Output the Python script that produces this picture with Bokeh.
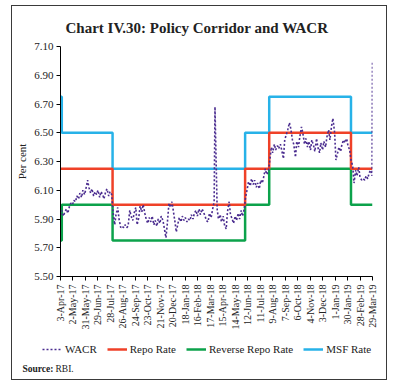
import math
import pandas as pd
from bokeh.plotting import figure
from bokeh.layouts import column
from bokeh.models import Range1d, FixedTicker, Legend, LegendItem, Label
from bokeh.embed import file_html
from bokeh.resources import INLINE

title_text = "Chart IV.30: Policy Corridor and WACR"
y_axis_label = "Per cent"
source_head = "Source:"
source_body = "RBI."
series_names = ["WACR", "Repo Rate", "Reverse Repo Rate", "MSF Rate"]

x_tick_labels = ["3-Apr-17", "2-May-17", "31-May-17", "29-Jun-17", "28-Jul-17", "26-Aug-17",
                 "24-Sep-17", "23-Oct-17", "21-Nov-17", "20-Dec-17", "18-Jan-18", "16-Feb-18",
                 "17-Mar-18", "15-Apr-18", "14-May-18", "12-Jun-18", "11-Jul-18", "9-Aug-18",
                 "7-Sep-18", "6-Oct-18", "4-Nov-18", "3-Dec-18", "1-Jan-19", "30-Jan-19",
                 "28-Feb-19", "29-Mar-19"]
y_ticks = [5.50, 5.70, 5.90, 6.10, 6.30, 6.50, 6.70, 6.90, 7.10]
y_tick_labels = ["5.50", "5.70", "5.90", "6.10", "6.30", "6.50", "6.70", "6.90", "7.10"]

# Policy corridor (step changes)
policy_dates = ["2017-04-03", "2017-04-06", "2017-08-02", "2018-06-06", "2018-08-01", "2019-02-07", "2019-03-29"]
repo_rate = [6.25, 6.25, 6.00, 6.25, 6.50, 6.25, 6.25]
reverse_repo_rate = [5.75, 6.00, 5.75, 6.00, 6.25, 6.00, 6.00]
msf_rate = [6.75, 6.50, 6.25, 6.50, 6.75, 6.50, 6.50]

# WACR
wacr_dates = [
    "2017-04-03", "2017-04-06", "2017-04-10", "2017-04-13", "2017-04-17", "2017-04-20", "2017-04-24", "2017-04-27",
    "2017-05-01", "2017-05-04", "2017-05-08", "2017-05-11", "2017-05-15", "2017-05-18", "2017-05-22", "2017-05-25",
    "2017-05-29", "2017-06-01", "2017-06-05", "2017-06-08", "2017-06-12", "2017-06-15", "2017-06-19", "2017-06-22",
    "2017-06-26", "2017-06-29", "2017-07-03", "2017-07-06", "2017-07-10", "2017-07-13", "2017-07-17", "2017-07-20",
    "2017-07-24", "2017-07-27", "2017-07-31", "2017-08-03", "2017-08-07", "2017-08-10", "2017-08-14", "2017-08-17",
    "2017-08-21", "2017-08-24", "2017-08-28", "2017-08-31", "2017-09-04", "2017-09-07", "2017-09-11", "2017-09-14",
    "2017-09-18", "2017-09-21", "2017-09-25", "2017-09-28", "2017-10-02", "2017-10-05", "2017-10-09", "2017-10-12",
    "2017-10-16", "2017-10-19", "2017-10-23", "2017-10-26", "2017-10-30", "2017-11-02", "2017-11-06", "2017-11-09",
    "2017-11-13", "2017-11-16", "2017-11-20", "2017-11-23", "2017-11-27", "2017-11-30", "2017-12-04", "2017-12-07",
    "2017-12-11", "2017-12-14", "2017-12-18", "2017-12-21", "2017-12-25", "2017-12-28", "2018-01-01", "2018-01-04",
    "2018-01-08", "2018-01-11", "2018-01-15", "2018-01-18", "2018-01-22", "2018-01-25", "2018-01-29", "2018-02-01",
    "2018-02-05", "2018-02-08", "2018-02-12", "2018-02-15", "2018-02-19", "2018-02-22", "2018-02-26", "2018-03-01",
    "2018-03-05", "2018-03-08", "2018-03-12", "2018-03-15", "2018-03-19", "2018-03-22", "2018-03-26", "2018-03-28",
    "2018-04-02", "2018-04-05", "2018-04-09", "2018-04-12", "2018-04-16", "2018-04-19", "2018-04-23", "2018-04-26",
    "2018-04-30", "2018-05-03", "2018-05-07", "2018-05-10", "2018-05-14", "2018-05-17", "2018-05-21", "2018-05-24",
    "2018-05-28", "2018-05-31", "2018-06-04", "2018-06-07", "2018-06-11", "2018-06-14", "2018-06-18", "2018-06-21",
    "2018-06-25", "2018-06-28", "2018-07-02", "2018-07-05", "2018-07-09", "2018-07-12", "2018-07-16", "2018-07-19",
    "2018-07-23", "2018-07-26", "2018-07-30", "2018-08-02", "2018-08-06", "2018-08-09", "2018-08-13", "2018-08-16",
    "2018-08-20", "2018-08-23", "2018-08-27", "2018-08-30", "2018-09-03", "2018-09-06", "2018-09-10", "2018-09-13",
    "2018-09-17", "2018-09-20", "2018-09-24", "2018-09-27", "2018-10-01", "2018-10-04", "2018-10-08", "2018-10-11",
    "2018-10-15", "2018-10-18", "2018-10-22", "2018-10-25", "2018-10-29", "2018-11-01", "2018-11-05", "2018-11-08",
    "2018-11-12", "2018-11-15", "2018-11-19", "2018-11-22", "2018-11-26", "2018-11-29", "2018-12-03", "2018-12-06",
    "2018-12-10", "2018-12-13", "2018-12-17", "2018-12-20", "2018-12-24", "2018-12-27", "2018-12-31", "2019-01-03",
    "2019-01-07", "2019-01-10", "2019-01-14", "2019-01-17", "2019-01-21", "2019-01-24", "2019-01-28", "2019-01-31",
    "2019-02-04", "2019-02-07", "2019-02-11", "2019-02-14", "2019-02-18", "2019-02-21", "2019-02-25", "2019-02-28",
    "2019-03-04", "2019-03-07", "2019-03-11", "2019-03-14", "2019-03-18", "2019-03-21", "2019-03-25", "2019-03-28",
    "2019-03-29",
]
wacr_values = [
    5.93, 5.96, 5.92, 5.95, 5.97, 5.94, 5.99, 6.01,
    6.00, 6.03, 6.02, 6.06, 6.04, 6.08, 6.05, 6.10,
    6.07, 6.11, 6.17, 6.12, 6.08, 6.11, 6.06, 6.09,
    6.07, 6.10, 6.05, 6.09, 6.07, 6.04, 6.09, 6.11,
    6.06, 6.09, 6.07, 5.95, 5.86, 5.93, 5.98, 5.90,
    5.84, 5.85, 5.84, 5.86, 5.84, 5.85, 5.96, 5.92,
    5.89, 5.94, 5.98, 5.86, 5.91, 5.99, 5.95, 6.00,
    5.94, 5.90, 5.87, 5.91, 5.88, 5.92, 5.86, 5.89,
    5.85, 5.90, 5.87, 5.92, 5.89, 5.84, 5.77, 5.86,
    6.01, 5.98, 6.02, 5.96, 5.88, 5.81, 5.87, 5.91,
    5.88, 5.92, 5.89, 5.91, 5.88, 5.90, 5.89, 5.93,
    5.90, 5.94, 5.96, 5.92, 5.97, 5.93, 5.97, 5.95,
    5.92, 5.89, 5.88, 5.94, 5.91, 5.96, 6.02, 6.68,
    5.97, 5.90, 5.93, 5.88, 5.92, 5.86, 5.83, 5.95,
    6.02, 5.93, 5.90, 5.87, 5.92, 5.89, 5.94, 5.90,
    5.96, 5.92, 5.97, 6.05, 6.11, 6.16, 6.13, 6.18,
    6.14, 6.17, 6.12, 6.15, 6.11, 6.17, 6.15, 6.19,
    6.25, 6.21, 6.23, 6.30, 6.40, 6.36, 6.42, 6.38,
    6.41, 6.39, 6.42, 6.38, 6.32, 6.45, 6.49, 6.52,
    6.57, 6.53, 6.45, 6.42, 6.33, 6.44, 6.40, 6.47,
    6.54, 6.50, 6.42, 6.46, 6.40, 6.44, 6.38, 6.45,
    6.41, 6.37, 6.46, 6.40, 6.36, 6.43, 6.38, 6.44,
    6.40, 6.47, 6.52, 6.45, 6.55, 6.60, 6.50, 6.31,
    6.36, 6.40, 6.37, 6.42, 6.45, 6.43, 6.46, 6.41,
    6.38, 6.31, 6.27, 6.15, 6.24, 6.20, 6.26, 6.19,
    6.17, 6.18, 6.17, 6.20, 6.18, 6.22, 6.24, 6.20,
    7.00,
]

C_WACR = "#4a2c8f"
C_REPO = "#ef4128"
C_RREPO = "#0ca24b"
C_MSF = "#27b2e8"
SERIF = "Liberation Serif"
TXT = "#222222"

x_start = pd.Timestamp(policy_dates[0])
x_end = pd.Timestamp(policy_dates[-1])

# ---------------- main chart ----------------
p = figure(frame_width=312, frame_height=230, x_axis_type="datetime",
           x_range=Range1d(x_start, x_end), y_range=Range1d(y_ticks[0], y_ticks[-1]),
           output_backend="svg", toolbar_location=None,
           min_border_left=48, min_border_right=14, min_border_top=40, min_border_bottom=58)
p.outline_line_color = None
p.xgrid.visible = False
p.ygrid.visible = False
p.background_fill_color = "white"
p.border_fill_color = "white"

p.title.text = title_text
p.title.align = "left"
p.title.offset = 5
p.title.standoff = 22
p.title.text_font = SERIF
p.title.text_font_size = "15px"
p.title.text_font_style = "bold"
p.title.text_color = TXT

pd_dates = pd.to_datetime(policy_dates)
p.step(pd_dates, msf_rate, mode="after", line_color=C_MSF, line_width=2.5)
p.step(pd_dates, reverse_repo_rate, mode="after", line_color=C_RREPO, line_width=2.5)
p.step(pd_dates, repo_rate, mode="after", line_color=C_REPO, line_width=2.5)
p.line(pd.to_datetime(wacr_dates), wacr_values, line_color=C_WACR, line_width=1.6, line_dash="2 2")

tick_ts = [pd.to_datetime(t, format="%d-%b-%y") for t in x_tick_labels]
tick_ms = [int(t.value // 10**6) for t in tick_ts]
xa = p.xaxis[0]
xa.ticker = FixedTicker(ticks=tick_ms)
xa.major_label_overrides = {m: lab for m, lab in zip(tick_ms, x_tick_labels)}
xa.major_label_orientation = math.pi / 2
xa.major_label_text_font = SERIF
xa.major_label_text_font_size = "10px"
xa.major_label_text_color = TXT
xa.major_tick_in = 0
xa.major_tick_out = 4
xa.minor_tick_line_color = None
xa.major_label_standoff = 4
xa.axis_line_color = "black"

ya = p.yaxis[0]
ya.ticker = FixedTicker(ticks=y_ticks)
ya.major_label_overrides = {t: lab for t, lab in zip(y_ticks, y_tick_labels)}
ya.major_label_text_font = SERIF
ya.major_label_text_font_size = "11px"
ya.major_label_text_color = TXT
ya.major_tick_in = 0
ya.major_tick_out = 4
ya.minor_tick_line_color = None
ya.major_label_standoff = 3
ya.axis_label = y_axis_label
ya.axis_label_text_font = SERIF
ya.axis_label_text_font_size = "11px"
ya.axis_label_text_font_style = "normal"
ya.axis_label_text_color = TXT
ya.axis_label_standoff = 3
ya.axis_line_color = "black"

# ---------------- legend + source strip ----------------
q = figure(width=374, height=45, x_range=Range1d(0, 374), y_range=Range1d(0, 45),
           x_axis_type=None, y_axis_type=None, output_backend="svg", toolbar_location=None,
           min_border_left=0, min_border_right=0, min_border_top=0, min_border_bottom=0)
q.outline_line_color = None
q.xgrid.visible = False
q.ygrid.visible = False
q.background_fill_color = "white"
q.border_fill_color = "white"

for fig in (p, q):
    try:
        fig.frame_align = False
    except Exception:
        pass

nan = float("nan")
line_styles = [(C_WACR, 1.6, "2 2"), (C_REPO, 2.5, "solid"), (C_RREPO, 2.5, "solid"), (C_MSF, 2.5, "solid")]
items = []
for name, (col, lw, dash) in zip(series_names, line_styles):
    r = q.line(x=[nan, nan], y=[nan, nan], line_color=col, line_width=lw, line_dash=dash)
    items.append(LegendItem(label=name, renderers=[r], index=0))
legend = Legend(items=items, orientation="horizontal", location=(30, 24))
legend.label_text_font = SERIF
legend.label_text_font_size = "11px"
legend.label_text_color = TXT
legend.glyph_width = 20
legend.glyph_height = 10
legend.label_standoff = 3
legend.spacing = 10
legend.padding = 0
legend.margin = 0
legend.border_line_color = None
legend.background_fill_alpha = 0
q.add_layout(legend)

q.add_layout(Label(x=10, y=11, x_units="screen", y_units="screen", text=source_head,
                   text_align="left", text_baseline="middle", text_font=SERIF,
                   text_font_size="9.5px", text_font_style="bold", text_color=TXT))
q.add_layout(Label(x=43, y=11, x_units="screen", y_units="screen", text=source_body,
                   text_align="left", text_baseline="middle", text_font=SERIF,
                   text_font_size="9.5px", text_color=TXT))

layout = column(p, q, spacing=0,
                styles={"border": "1px solid #3a3a3a", "margin-left": "11px", "margin-top": "5px",
                        "background": "white"})

open("out.html", "w").write(file_html(layout, INLINE))
